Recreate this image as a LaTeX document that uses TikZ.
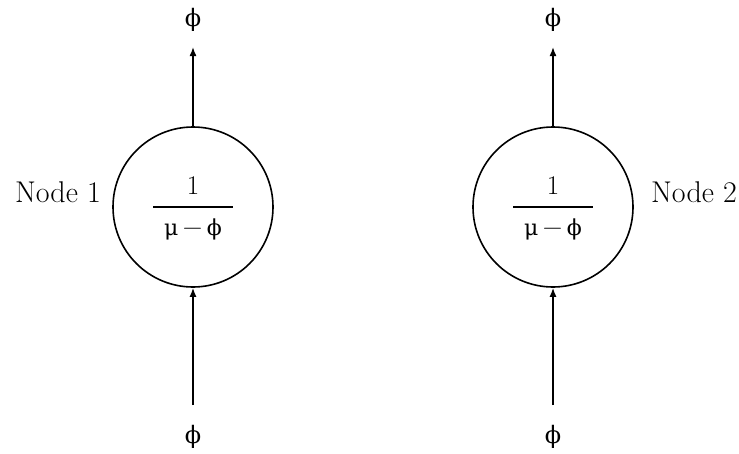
\documentclass[tikz,border=0pt]{standalone}
\usepackage{fontspec}
\newfontfamily\grk{DejaVu Serif}
\usetikzlibrary{arrows.meta}
\tikzset{
  queue/.style={draw, line width=1.6pt, circle, minimum size=160pt, inner sep=0pt},
  flow/.style={line width=1.6pt, -{Latex[length=9pt,width=7pt]}},
  lbl/.style={font=\fontsize{30}{35}\selectfont, inner sep=0pt},
  sym/.style={font=\fontsize{24}{28}\selectfont\grk, inner sep=0pt},
  frac/.style={font=\fontsize{27}{30}\selectfont, inner sep=0pt}
}
\begin{document}
\begin{tikzpicture}[x=1pt,y=-1pt]
\useasboundingbox (0,0) rectangle (739,453);
% node 1
\node[queue] (c1) at (193,207) {};
\node[frac] (n1) at (193,186) {1};
\node[frac] (d1) at (193,229) {{\grk\fontsize{22}{26}\selectfont μ}\,−\,{\grk\fontsize{22}{26}\selectfont ϕ}};
\draw[line width=1.4pt] (153,207) -- (233,207);
\node[lbl, anchor=east] (l1) at (101,192) {Node 1};
\node[sym] (top1) at (193,20) {ϕ};
\node[sym] (bot1) at (193,437) {ϕ};
\coordinate (s1) at (193,405);
\coordinate (t1) at (193,47);
\draw[flow] (c1.north) -- (t1);
\draw[flow] (s1) -- (c1.south);
% node 2
\node[queue] (c2) at (553,207) {};
\node[frac] (n2) at (553,186) {1};
\node[frac] (d2) at (553,229) {{\grk\fontsize{22}{26}\selectfont μ}\,−\,{\grk\fontsize{22}{26}\selectfont ϕ}};
\draw[line width=1.4pt] (513,207) -- (593,207);
\node[lbl, anchor=west] (l2) at (651,192) {Node 2};
\node[sym] (top2) at (553,20) {ϕ};
\node[sym] (bot2) at (553,437) {ϕ};
\coordinate (s2) at (553,405);
\coordinate (t2) at (553,47);
\draw[flow] (c2.north) -- (t2);
\draw[flow] (s2) -- (c2.south);
\end{tikzpicture}
\end{document}
